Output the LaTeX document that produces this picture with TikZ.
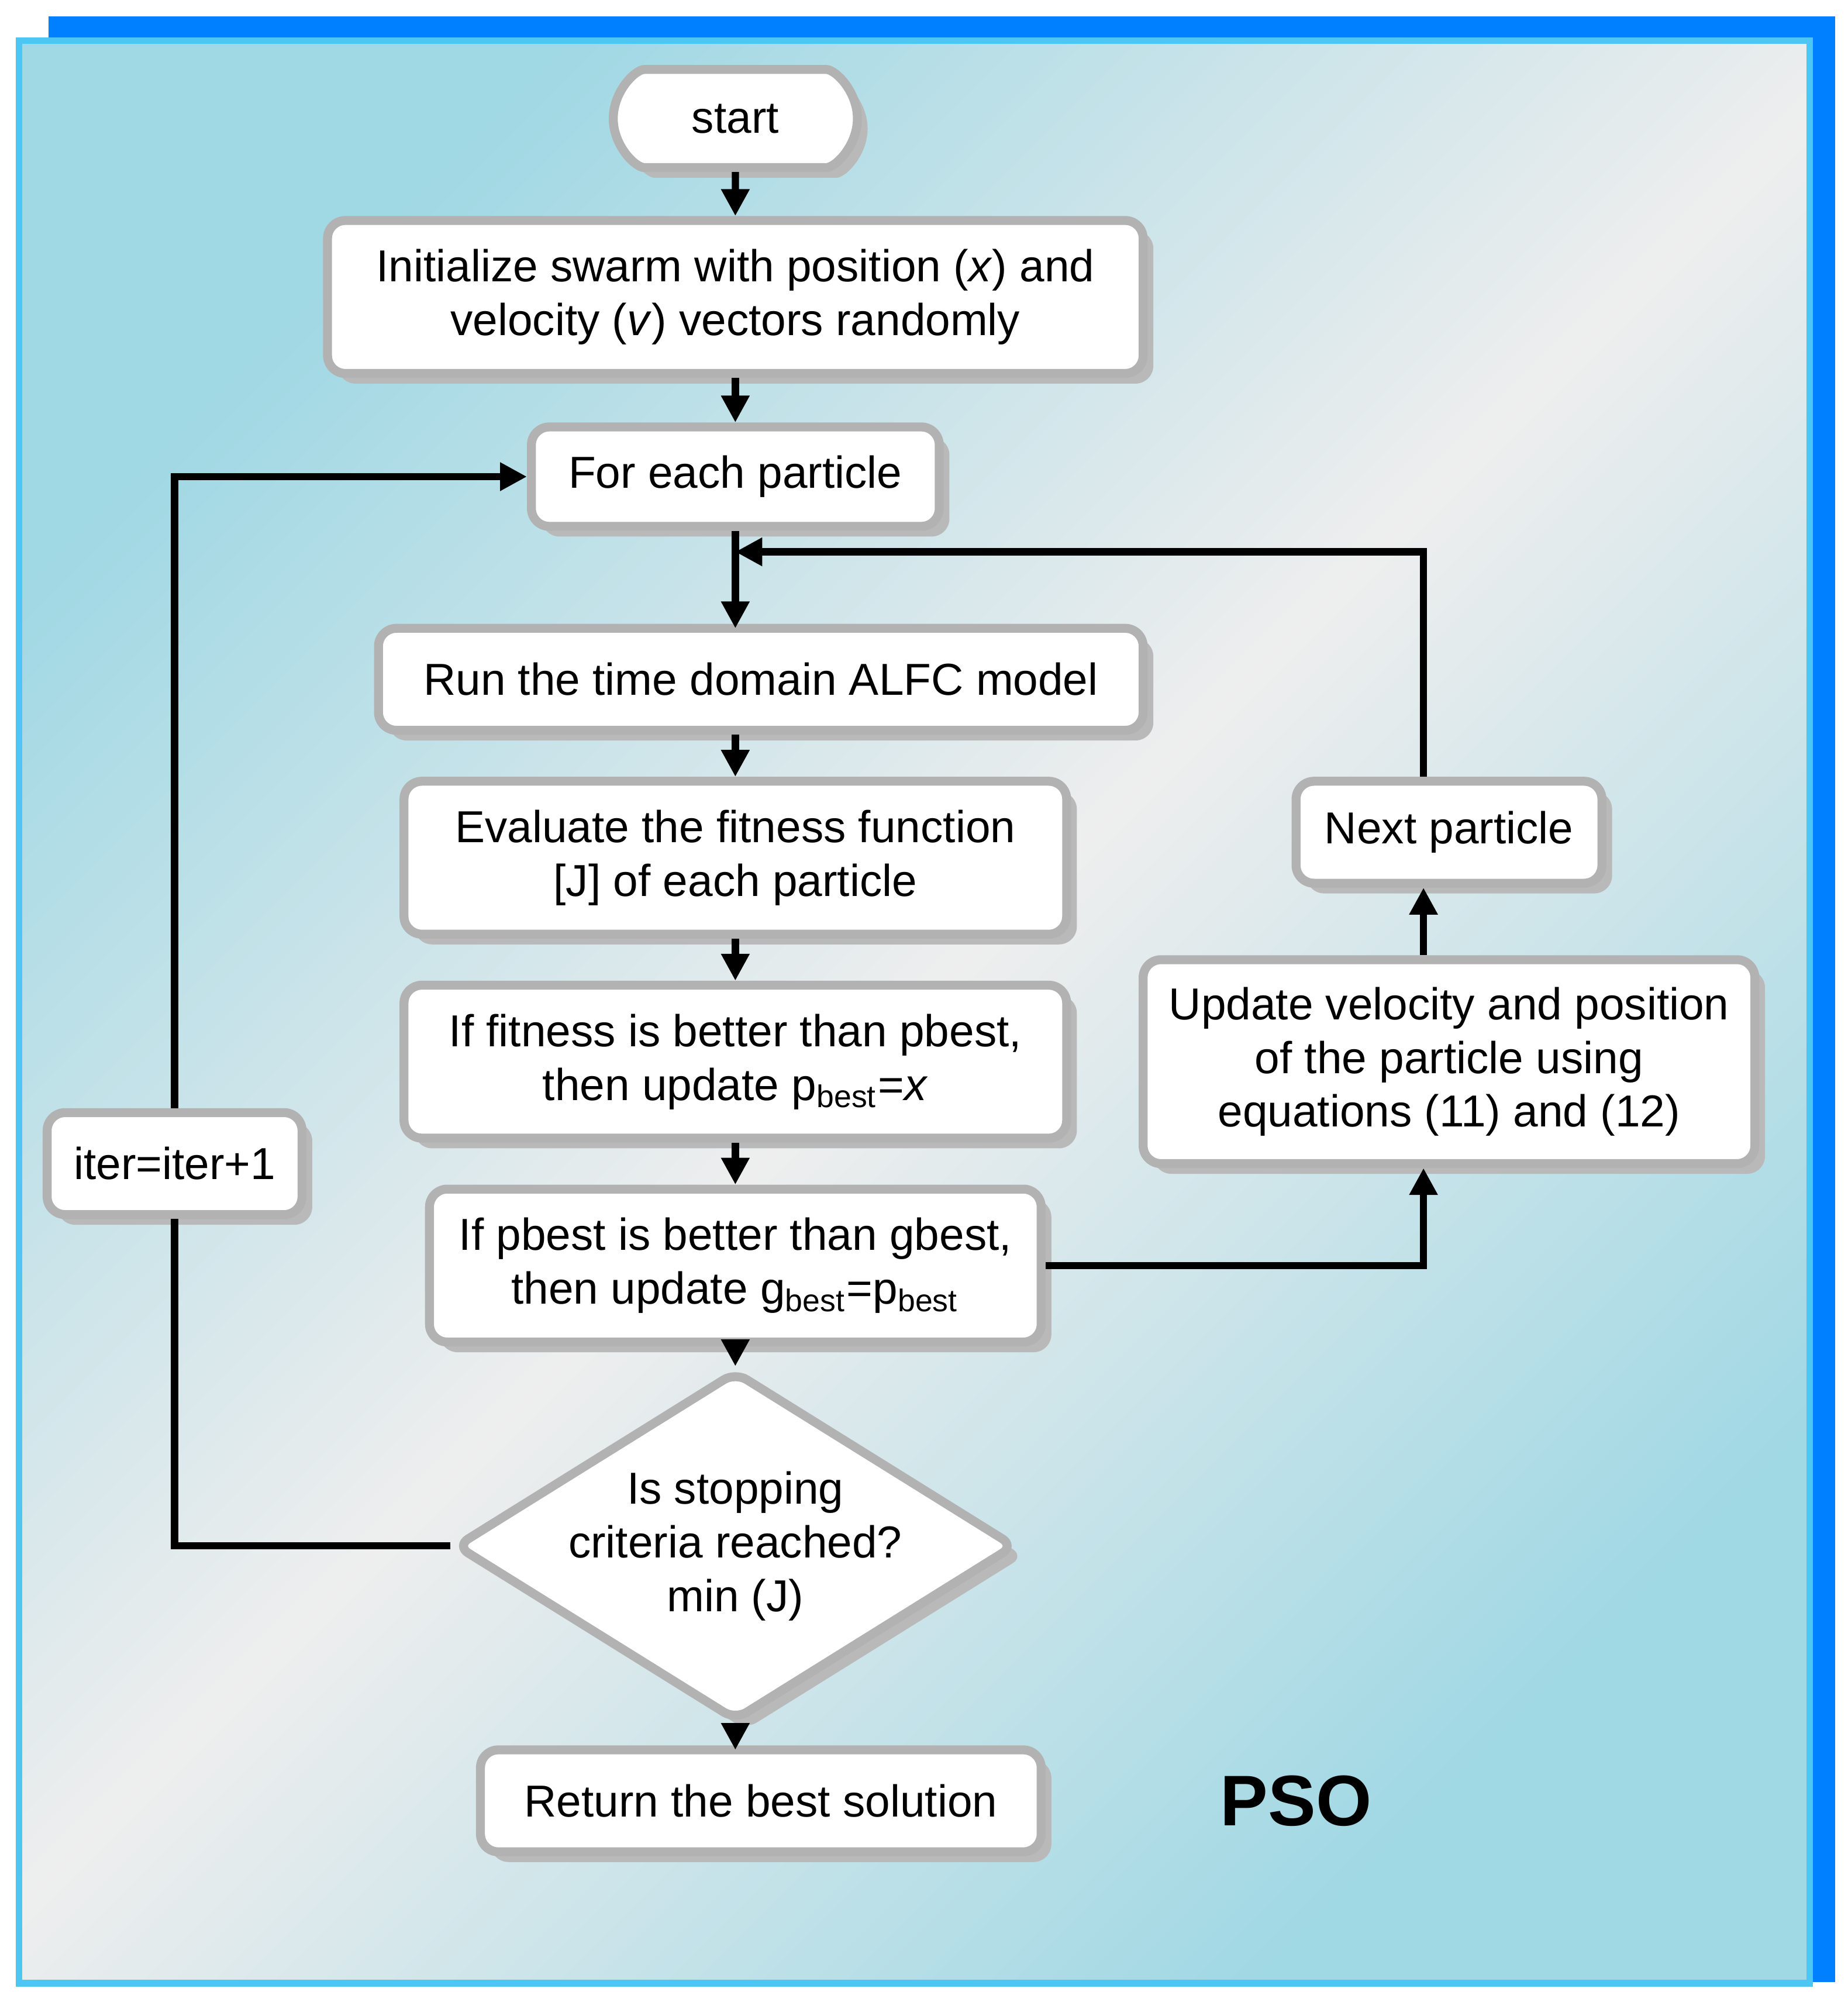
\documentclass[tikz,border=0pt]{standalone}
\usepackage{fontspec}
\setmainfont{Liberation Sans}
\usetikzlibrary{positioning,shapes.geometric,shapes.misc,shadows,arrows.meta}

\definecolor{bgblue}{RGB}{160,216,228}
\definecolor{bggray}{RGB}{238,238,238}
\pgfdeclareverticalshading{bgshade}{100bp}{color(0bp)=(bgblue); color(25bp)=(bgblue); color(50bp)=(bggray); color(75bp)=(bgblue); color(100bp)=(bgblue)}

\tikzset{
  box/.style={draw=gray!60, line width=2pt, fill=white, rounded corners=4pt, align=center,
    font=\fontsize{10}{12}\selectfont,
    drop shadow={shadow xshift=0.8mm, shadow yshift=-0.8mm, fill=gray!55, opacity=1}},
  link/.style={line width=1.6pt, -{Triangle[length=6pt,width=6pt]}},
  line/.style={line width=1.6pt}
}

\begin{document}
\begin{tikzpicture}[x=0.1mm, y=-0.1mm]
   \useasboundingbox (0,0) rectangle (1450,1563);
   % frames
   \fill[blue!50!cyan] (38,13) rectangle (1440,1555);
   \shade[shading=bgshade, shading angle=45] (15,32) rectangle (1420,1556);
   \draw[cyan!70, line width=1.5pt] (15,32) rectangle (1420,1556);

   \node[box, rounded rectangle, minimum width=21.5mm, minimum height=7.7mm] (start) at (577,93) {start};
   \node[box, minimum width=64mm, minimum height=12mm] (init) at (577,233) {Initialize swarm with position (\textit{x}) and\\velocity (\textit{v}) vectors randomly};
   \node[box, minimum width=32mm, minimum height=7.8mm] (each) at (577,374) {For each particle};
   \node[box, minimum width=60mm, minimum height=8mm] (run) at (597,533) {Run the time domain ALFC model};
   \node[box, minimum width=52mm, minimum height=12mm] (eval) at (577,673) {Evaluate the fitness function\\{}[J] of each particle};
   \node[box, minimum width=52mm, minimum height=12mm] (pbest) at (577,833) {If fitness is better than pbest,\\then update p\textsubscript{best}=\textit{x}};
   \node[box, minimum width=48mm, minimum height=12mm] (gbest) at (577,993) {If pbest is better than gbest,\\then update g\textsubscript{best}=p\textsubscript{best}};
   \node[box, rounded corners=3pt, diamond, inner sep=-0.5pt, aspect=1.6] (stop) at (577,1213) {Is stopping\\criteria reached?\\min (J)};
   \node[box, minimum width=44mm, minimum height=8mm] (ret) at (597,1413) {Return the best solution};
   \node[box, minimum width=20mm, minimum height=8mm] (iter) at (137,913) {iter=iter+1};
   \node[box, minimum width=48mm, minimum height=16mm] (upd) at (1137,833) {Update velocity and position\\of the particle using\\equations (11) and (12)};
   \node[box, minimum width=24mm, minimum height=8mm] (next) at (1137,653) {Next particle};
   \node[font=\fontsize{16}{19}\selectfont\bfseries] (pso) at (1017,1413) {PSO};

   \coordinate (junc) at (577,433);
   \coordinate (gr) at (1117,993);
   \coordinate (nt) at (1117,433);
   \coordinate (sl) at (137,1213);
   \coordinate (fl) at (137,374);

   \draw[link] (start) -- (init);
   \draw[link] (init) -- (each);
   \draw[link] (each) -- (junc) -- (577,493);
   \draw[link] (run.south -| eval.north) -- (eval);
   \draw[link] (eval) -- (pbest);
   \draw[link] (pbest) -- (gbest);
   \draw[link] (gbest) -- (stop.north);
   \draw[link] (stop.south) -- (577,1373);
   \draw[link] (gbest.east) -- (gr) -- (gr |- upd.south);
   \draw[link] (gr |- upd.north) -- (gr |- next.south);
   \draw[link] (gr |- next.north) -- (nt) -- (junc);
   \draw[line] (stop.west) -- (sl) -- (iter.south);
   \draw[link] (iter.north) -- (fl) -- (each.west);
\end{tikzpicture}
\end{document}
